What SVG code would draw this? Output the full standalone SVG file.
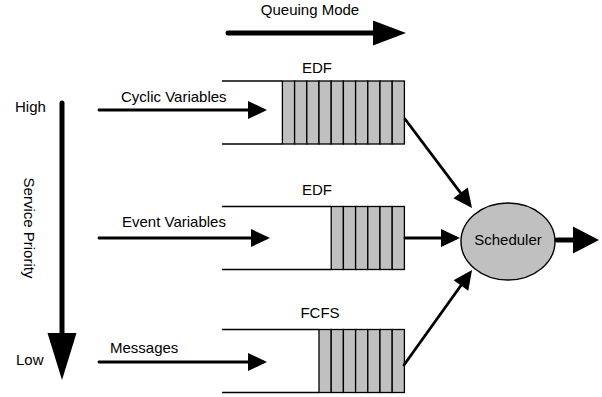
<svg xmlns="http://www.w3.org/2000/svg" width="602" height="397" viewBox="0 0 602 397">
<style>
text { font-family: "Liberation Sans", Arial, sans-serif; font-size: 15px; fill: #000; }
.mid { text-anchor: middle; }
.qline { stroke: #000; stroke-width: 1.4; fill: none; }
.cell { fill: #c0c0c0; stroke: #000; stroke-width: 1.3; }
.thin { stroke: #000; stroke-width: 2.8; fill: none; stroke-linecap: round; marker-end: url(#headThin); }
.thick { stroke: #000; stroke-width: 5; fill: none; stroke-linecap: round; }
</style>
<defs>
<marker id="headThin" markerUnits="userSpaceOnUse" markerWidth="20" markerHeight="18" refX="15" refY="9" orient="auto" overflow="visible">
<path d="M0,0 L19,9 L0,18 Z" fill="#000"/>
</marker>
<marker id="headMode" markerUnits="userSpaceOnUse" markerWidth="33" markerHeight="25" refX="5" refY="12.5" orient="auto" overflow="visible">
<path d="M0,0 L33,12.5 L0,25 Z" fill="#000"/>
</marker>
<marker id="headPrio" markerUnits="userSpaceOnUse" markerWidth="47" markerHeight="29" refX="5" refY="14.5" orient="auto" overflow="visible">
<path d="M0,0 L47,14.5 L0,29 Z" fill="#000"/>
</marker>
<marker id="headOut" markerUnits="userSpaceOnUse" markerWidth="26" markerHeight="27" refX="5" refY="13.5" orient="auto" overflow="visible">
<path d="M0,0 L26,13.5 L0,27 Z" fill="#000"/>
</marker>
</defs>

<g id="queuing-mode">
<line class="thick" x1="228" y1="33" x2="378" y2="33" marker-end="url(#headMode)"/>
<text class="mid" x="310" y="15">Queuing Mode</text>
</g>

<g id="service-priority">
<line class="thick" x1="62" y1="103" x2="62" y2="338" marker-end="url(#headPrio)"/>
<text x="15" y="112">High</text>
<text x="16" y="365">Low</text>
<text class="mid" transform="translate(24,228) rotate(90)">Service Priority</text>
</g>

<g id="queue-cyclic">
<text class="mid" x="317" y="73">EDF</text>
<line class="qline" x1="222" y1="81" x2="282.4" y2="81"/>
<line class="qline" x1="222" y1="144" x2="282.4" y2="144"/>
<rect class="cell" x="282.4" y="81" width="12.2" height="63"/>
<rect class="cell" x="294.6" y="81" width="12.2" height="63"/>
<rect class="cell" x="306.8" y="81" width="12.2" height="63"/>
<rect class="cell" x="319.0" y="81" width="12.2" height="63"/>
<rect class="cell" x="331.2" y="81" width="12.2" height="63"/>
<rect class="cell" x="343.4" y="81" width="12.2" height="63"/>
<rect class="cell" x="355.6" y="81" width="12.2" height="63"/>
<rect class="cell" x="367.8" y="81" width="12.2" height="63"/>
<rect class="cell" x="380.0" y="81" width="12.2" height="63"/>
<rect class="cell" x="392.2" y="81" width="12.2" height="63"/>
</g>

<g id="queue-event">
<text class="mid" x="317" y="195">EDF</text>
<line class="qline" x1="222" y1="206.5" x2="331.2" y2="206.5"/>
<line class="qline" x1="222" y1="269.5" x2="331.2" y2="269.5"/>
<rect class="cell" x="331.2" y="206.5" width="12.2" height="63"/>
<rect class="cell" x="343.4" y="206.5" width="12.2" height="63"/>
<rect class="cell" x="355.6" y="206.5" width="12.2" height="63"/>
<rect class="cell" x="367.8" y="206.5" width="12.2" height="63"/>
<rect class="cell" x="380.0" y="206.5" width="12.2" height="63"/>
<rect class="cell" x="392.2" y="206.5" width="12.2" height="63"/>
</g>

<g id="queue-messages">
<text class="mid" x="320" y="318">FCFS</text>
<line class="qline" x1="222" y1="329.5" x2="319" y2="329.5"/>
<line class="qline" x1="222" y1="392.5" x2="319" y2="392.5"/>
<rect class="cell" x="319.0" y="329.5" width="12.2" height="63"/>
<rect class="cell" x="331.2" y="329.5" width="12.2" height="63"/>
<rect class="cell" x="343.4" y="329.5" width="12.2" height="63"/>
<rect class="cell" x="355.6" y="329.5" width="12.2" height="63"/>
<rect class="cell" x="367.8" y="329.5" width="12.2" height="63"/>
<rect class="cell" x="380.0" y="329.5" width="12.2" height="63"/>
<rect class="cell" x="392.2" y="329.5" width="12.2" height="63"/>
</g>

<g id="scheduler">
<ellipse cx="508" cy="241.5" rx="47" ry="38.5" fill="#c0c0c0" stroke="#000" stroke-width="1.4"/>
<text class="mid" x="508" y="244.5">Scheduler</text>
</g>

<g id="connectors">
<line class="thin" x1="99" y1="110" x2="263" y2="110"/>
<text x="121" y="102">Cyclic Variables</text>
<line class="thin" x1="99" y1="238" x2="266" y2="238"/>
<text x="122" y="227">Event Variables</text>
<line class="thin" x1="99" y1="362" x2="263" y2="362"/>
<text x="110" y="353">Messages</text>
<line class="thin" x1="405" y1="119" x2="469.6" y2="204.8"/>
<line class="thin" x1="405" y1="238" x2="456" y2="238"/>
<line class="thin" x1="404" y1="365" x2="469.7" y2="273.3"/>
<line class="thick" x1="557" y1="240" x2="578" y2="240" marker-end="url(#headOut)"/>
</g>
</svg>
